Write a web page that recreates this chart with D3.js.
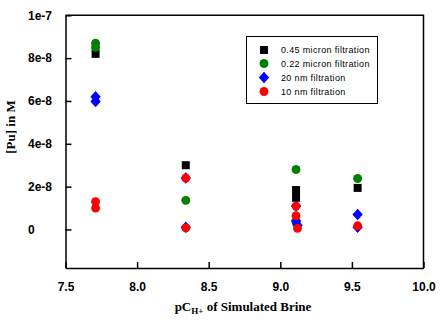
<!DOCTYPE html>
<html>
<head>
<meta charset="utf-8">
<script src="https://cdn.jsdelivr.net/npm/d3@7"></script>
<style>
  body { margin: 0; background: #fff; }
  svg { display: block; }
</style>
</head>
<body>
<div id="chart"></div>
<script>
// [pC(H+), Pu concentration in M] per filtration size
const filt045 = [[7.71, 8.2e-8], [8.34, 3.0e-8], [9.11, 1.84e-8], [9.11, 1.48e-8], [9.54, 1.94e-8]];
const filt022 = [[7.71, 8.7e-8], [7.71, 8.5e-8], [8.34, 1.36e-8], [9.11, 2.8e-8], [9.11, 0.35e-8], [9.54, 2.38e-8]];
const filt20nm = [[7.71, 6.2e-8], [7.71, 5.98e-8], [8.34, 2.4e-8], [8.34, 0.1e-8], [9.11, 1.1e-8],
                  [9.11, 0.4e-8], [9.12, 0.2e-8], [9.54, 0.7e-8], [9.54, 0.1e-8]];
const filt10nm = [[7.71, 1.3e-8], [7.71, 1.0e-8], [8.34, 2.4e-8], [8.34, 0.07e-8], [9.11, 1.09e-8],
                  [9.11, 0.64e-8], [9.12, 0.05e-8], [9.54, 0.17e-8]];

const seriesNames = ["0.45 micron filtration", "0.22 micron filtration", "20 nm filtration", "10 nm filtration"];

const xTicks = [7.5, 8.0, 8.5, 9.0, 9.5, 10.0];
const yTicks = [0, 2e-8, 4e-8, 6e-8, 8e-8, 1e-7];
const yTickLabels = ["0", "2e-8", "4e-8", "6e-8", "8e-8", "1e-7"];

const width = 446, height = 327;
const plot = { left: 65.5, right: 423.5, top: 15.3, bottom: 268 };

const svg = d3.select("#chart").append("svg")
  .attr("width", width)
  .attr("height", height);

const x = d3.scaleLinear().domain([7.5, 10]).range([plot.left, plot.right]);
const y = d3.scaleLinear().domain([-1.8e-8, 1e-7]).range([plot.bottom, plot.top]);

// frame (top and right edges)
svg.append("path")
  .attr("d", `M${plot.left},${plot.top}H${plot.right}V${plot.bottom}`)
  .attr("fill", "none")
  .attr("stroke", "#000")
  .attr("stroke-width", 1.5);

// x axis, ticks point inward
const xAxis = d3.axisBottom(x).tickValues(xTicks).tickFormat(d3.format(".1f"))
  .tickSizeInner(-6).tickSizeOuter(0).tickPadding(14);
const gx = svg.append("g")
  .attr("transform", `translate(0,${plot.bottom})`)
  .call(xAxis);

// y axis, labels flush left
const yAxis = d3.axisLeft(y).tickValues(yTicks).tickFormat((d, i) => yTickLabels[i])
  .tickSizeInner(-6).tickSizeOuter(0);
const gy = svg.append("g")
  .attr("transform", `translate(${plot.left},0)`)
  .call(yAxis);
gy.selectAll(".tick text")
  .attr("x", 28 - plot.left)
  .attr("text-anchor", "start");

[gx, gy].forEach(g => {
  g.select(".domain").attr("stroke-width", 1.5);
  g.selectAll(".tick line").attr("stroke-width", 1.5);
  g.selectAll(".tick text")
    .attr("font-family", "Liberation Sans, Arial, sans-serif")
    .attr("font-size", 12)
    .attr("font-weight", "bold")
    .attr("fill", "#000");
});

// axis titles
svg.append("text")
  .attr("transform", "translate(15,127) rotate(-90)")
  .attr("text-anchor", "middle")
  .attr("font-family", "Liberation Serif, Times New Roman, serif")
  .attr("font-size", 13)
  .attr("font-weight", "bold")
  .text("[Pu] in M");

const xt = svg.append("text")
  .attr("x", 243)
  .attr("y", 311)
  .attr("text-anchor", "middle")
  .attr("font-family", "Liberation Serif, Times New Roman, serif")
  .attr("font-size", 13)
  .attr("font-weight", "bold");
xt.append("tspan").text("pC");
xt.append("tspan").attr("font-size", 9).attr("dy", 3).text("H+");
xt.append("tspan").attr("dy", -3).text(" of Simulated Brine");

// marker shapes
const square = d3.symbol().type(d3.symbolSquare).size(64);
const circle = d3.symbol().type(d3.symbolCircle).size(62);
const diamond = "M0,-5.8L5.2,0L0,5.8L-5.2,0Z";

const series = [
  { data: filt045, color: "#000000", path: square() },
  { data: filt022, color: "#008000", path: circle() },
  { data: filt20nm, color: "#0000ff", path: diamond },
  { data: filt10nm, color: "#ff0000", path: circle() }
];

series.forEach(s => {
  svg.append("g").selectAll("path")
    .data(s.data)
    .join("path")
    .attr("transform", d => `translate(${x(d[0])},${y(d[1])})`)
    .attr("d", s.path)
    .attr("fill", s.color);
});

// legend
const legend = svg.append("g");
legend.append("rect")
  .attr("x", 246.5).attr("y", 36.5)
  .attr("width", 131).attr("height", 67)
  .attr("fill", "#fff")
  .attr("stroke", "#000")
  .attr("stroke-width", 1);

const rowY = [50, 63.5, 77.5, 91.5];
series.forEach((s, i) => {
  legend.append("path")
    .attr("transform", `translate(264,${rowY[i]})`)
    .attr("d", s.path)
    .attr("fill", s.color);
  legend.append("text")
    .attr("x", 281)
    .attr("y", rowY[i])
    .attr("dy", "0.35em")
    .attr("font-family", "Liberation Sans, Arial, sans-serif")
    .attr("font-size", 9)
    .attr("letter-spacing", 0.35)
    .text(seriesNames[i]);
});
</script>
</body>
</html>
